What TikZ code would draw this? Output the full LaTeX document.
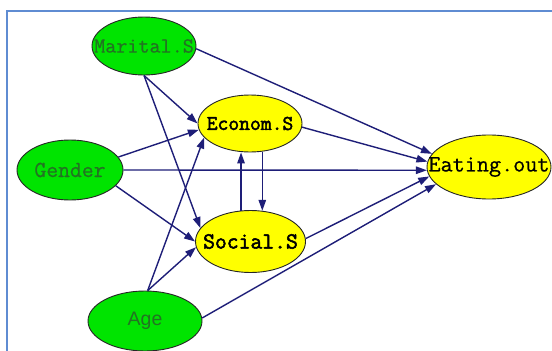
\documentclass[tikz,border=0pt]{standalone}
\usepackage{fontspec}
\newfontfamily\arialf{Liberation Sans}
\newfontfamily\monof[FakeBold=0.6]{Latin Modern Mono}
\newfontfamily\monobf[FakeBold=2.2]{Latin Modern Mono}
\usetikzlibrary{shapes.geometric,arrows.meta}
\definecolor{gfill}{RGB}{0,228,0}
\definecolor{yfill}{RGB}{255,255,0}
\definecolor{gtext}{RGB}{35,115,35}
\definecolor{navy}{RGB}{30,30,120}
\definecolor{frameblue}{RGB}{95,140,210}
\tikzset{
  ell/.style={ellipse, draw=black!85, line width=0.9pt, inner sep=0pt},
  gnode/.style={ell, fill=gfill},
  ynode/.style={ell, fill=yfill},
  conn/.style={draw=navy, line width=1.4pt, -{Triangle[length=11pt,width=7.5pt]}},
}
\begin{document}
\begin{tikzpicture}[x=1pt,y=-1pt]
\useasboundingbox (0,0) rectangle (552,351);
\fill[white] (0,0) rectangle (552,351);
\coordinate (fa) at (7,360);
\coordinate (fb) at (7,11);
\coordinate (fc) at (560,11);
\draw[frameblue, line width=1.6pt] (fa) -- (fb) -- (fc);

\node[gnode, minimum width=104pt, minimum height=58pt,
  label={center:{\monof\fontsize{21.5}{21}\selectfont\color{gtext}Marital.S}}] (mar) at (144,46) {};
\node[ynode, minimum width=104pt, minimum height=57pt,
  label={center:{\monobf\fontsize{21}{21}\selectfont Econom.S}}] (econ) at (250,123.5) {};
\node[gnode, minimum width=106pt, minimum height=60pt,
  label={center:{\monof\fontsize{23}{23}\selectfont\color{gtext}Gender}}] (gen) at (70,170) {};
\node[ynode, minimum width=110pt, minimum height=62pt,
  label={center:{\monobf\fontsize{23}{22}\selectfont Social.S}}] (soc) at (250.5,241.5) {};
\node[gnode, minimum width=114pt, minimum height=60pt,
  label={center:{\arialf\fontsize{19.5}{20}\selectfont\color{gtext}Age}}] (age) at (145,321) {};
\node[ynode, minimum width=124pt, minimum height=64pt,
  label={center:{\monof\fontsize{23.5}{24}\selectfont Eating.out}}] (eat) at (489,167) {};

% Marital.S
\draw[conn] (mar.-3) -- (eat.167);
\draw[conn] (mar.south) -- (econ.180);
\draw[conn] (mar.south) -- (soc.165);
% Gender
\draw[conn] (gen.15) -- (econ.187);
\draw[conn] (gen.0) -- (eat.183);
\draw[conn] (gen.-19) -- (soc.180);
% Age
\draw[conn] (age.85) -- (econ.197);
\draw[conn] (age.85) -- (soc.186);
\draw[conn] (age.3) -- (eat.198);
% Econom <-> Social
\draw[conn] (soc.107) -- (soc.107 |- econ.south);
\draw[conn] (soc.69 |- econ.south) -- (soc.69);
% to Eating.out
\draw[conn] (econ.-4) -- (eat.175);
\draw[conn] (soc.3.5) -- (eat.189);
\end{tikzpicture}
\end{document}
